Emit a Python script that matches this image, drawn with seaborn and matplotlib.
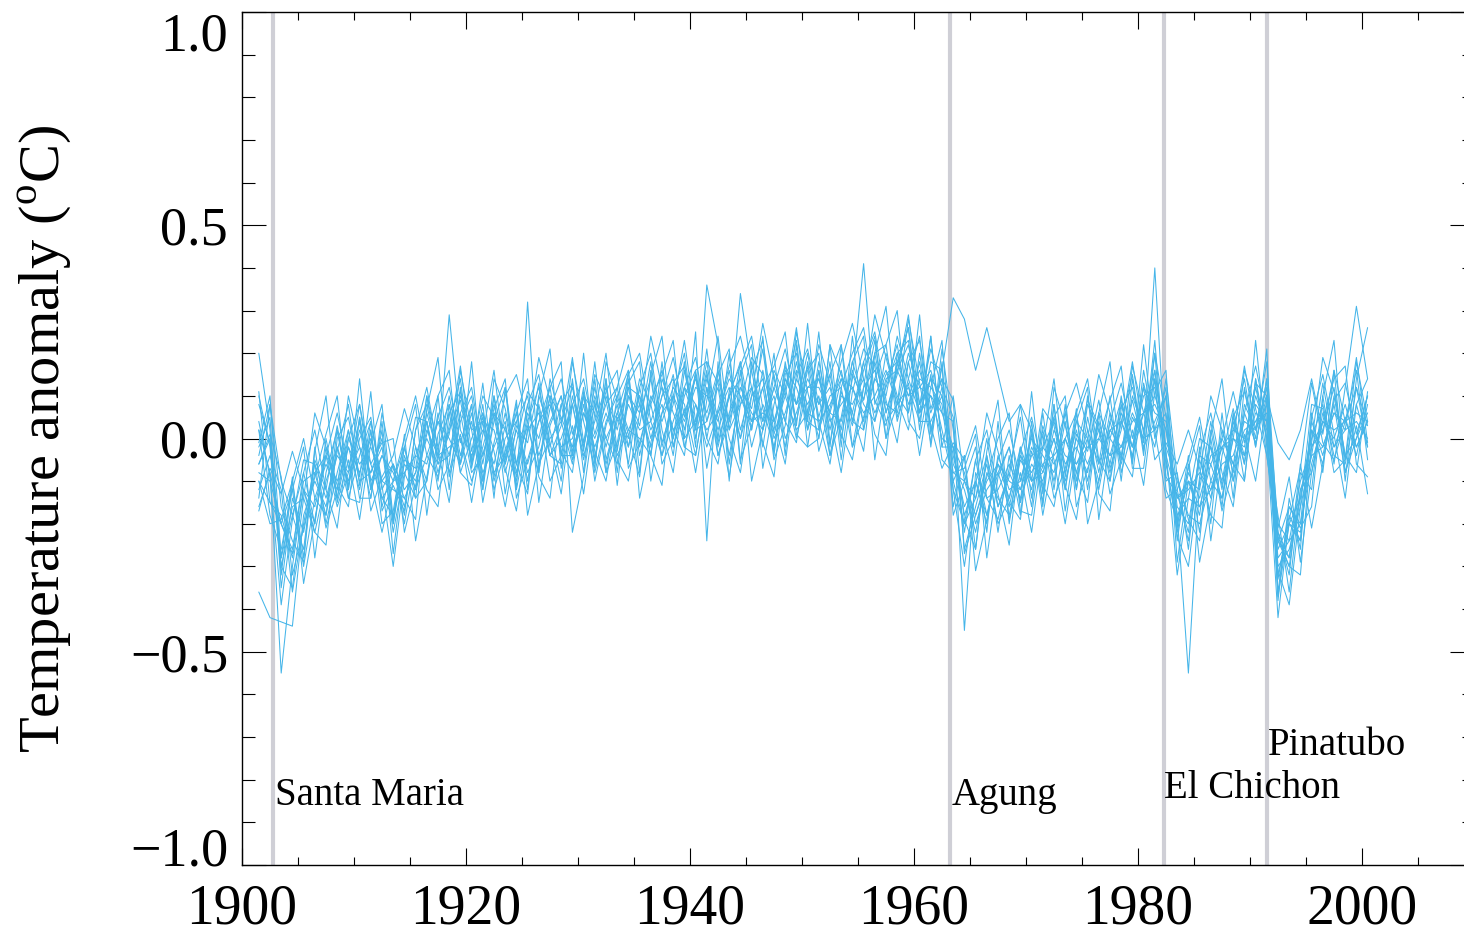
import numpy as np
import pandas as pd
import matplotlib
matplotlib.use("Agg")
import matplotlib.pyplot as plt
from matplotlib.ticker import MultipleLocator, FixedLocator, FuncFormatter
import seaborn as sns

# Annual-mean temperature anomaly (deg C) of each ensemble member, 1901-2000
years = list(range(1901, 2001))

run_01 = [0.20, 0.02, -0.30, -0.18, -0.26, -0.05, -0.12, 0.03, -0.11, 0.00,
          0.05, -0.12, -0.06, -0.18, 0.02, 0.08, -0.05, 0.10, -0.04, 0.06,
          -0.10, 0.04, 0.12, -0.06, 0.03, -0.08, 0.10, 0.05, -0.02, 0.12,
          -0.05, 0.10, 0.02, 0.14, -0.04, 0.08, 0.16, 0.00, 0.12, 0.03,
          0.15, -0.02, 0.10, 0.18, 0.04, 0.12, -0.03, 0.14, 0.08, 0.20,
          0.05, 0.15, 0.02, 0.18, 0.09, 0.20, 0.06, 0.16, 0.22, 0.08,
          0.14, 0.02, -0.10, -0.20, -0.05, -0.18, -0.08, -0.02, -0.15, -0.03,
          -0.12, 0.05, -0.08, 0.02, -0.10, 0.04, -0.06, 0.08, -0.02, 0.10,
          0.12, -0.06, -0.20, -0.10, -0.18, 0.02, -0.12, 0.05, -0.04, 0.10,
          0.02, -0.33, -0.18, -0.24, 0.02, -0.06, 0.10, -0.05, 0.12, -0.02]
run_02 = [-0.10, -0.15, -0.18, -0.28, -0.12, -0.20, -0.02, -0.14, 0.02, -0.10,
          -0.08, 0.00, -0.20, -0.04, -0.12, 0.04, -0.08, 0.02, 0.09, -0.06,
          0.05, -0.08, -0.04, 0.06, -0.10, 0.08, -0.04, -0.06, 0.10, -0.02,
          0.12, -0.02, 0.08, -0.06, 0.12, 0.00, 0.10, 0.14, 0.02, 0.15,
          0.00, 0.14, 0.04, 0.34, 0.16, 0.02, 0.12, 0.04, 0.18, 0.05,
          0.16, 0.02, 0.14, 0.06, 0.18, 0.04, 0.20, 0.10, 0.06, 0.18,
          0.02, 0.12, 0.05, -0.26, -0.16, -0.06, -0.20, -0.14, -0.04, -0.12,
          0.02, -0.10, 0.04, -0.12, 0.05, -0.08, 0.06, -0.05, 0.09, -0.02,
          0.04, 0.10, -0.12, -0.24, -0.05, -0.14, 0.02, -0.08, 0.06, -0.01,
          0.10, -0.24, -0.30, -0.12, -0.08, 0.06, -0.02, 0.05, -0.04, 0.08]
run_03 = [-0.02, 0.05, -0.35, -0.14, -0.22, -0.08, -0.18, 0.02, -0.12, 0.05,
          -0.12, -0.04, -0.08, -0.16, -0.02, -0.10, 0.06, -0.08, 0.04, 0.10,
          -0.06, 0.10, -0.02, -0.10, 0.06, 0.00, 0.12, -0.04, 0.08, -0.05,
          0.08, 0.00, -0.06, 0.10, 0.06, 0.14, -0.02, 0.10, 0.04, 0.12,
          0.10, 0.04, 0.16, 0.02, 0.12, -0.02, 0.15, 0.00, 0.06, 0.14,
          0.08, 0.12, 0.00, 0.14, 0.41, 0.08, 0.15, 0.18, 0.10, 0.16,
          0.06, 0.14, -0.06, -0.12, -0.22, -0.08, -0.14, -0.18, -0.05, -0.10,
          -0.08, 0.00, -0.12, 0.04, 0.00, -0.10, 0.04, -0.06, 0.05, 0.00,
          0.40, -0.05, -0.22, -0.08, -0.14, -0.04, -0.02, -0.10, 0.08, 0.02,
          0.12, -0.20, -0.24, -0.20, 0.04, -0.04, 0.08, -0.08, 0.00, 0.06]
run_04 = [0.02, -0.08, -0.55, -0.30, -0.12, -0.16, -0.04, -0.10, -0.02, -0.08,
          0.00, -0.14, -0.18, -0.06, -0.10, 0.02, -0.04, 0.29, 0.02, -0.04,
          0.02, -0.06, 0.06, -0.08, 0.04, 0.12, -0.02, 0.08, -0.05, 0.06,
          0.00, 0.08, 0.12, -0.02, 0.10, 0.02, 0.08, -0.04, 0.16, 0.02,
          0.04, 0.12, -0.04, 0.10, 0.02, 0.16, 0.04, 0.12, 0.00, 0.12,
          0.12, 0.06, 0.16, 0.04, 0.02, 0.14, 0.10, 0.24, 0.14, 0.06,
          0.10, 0.00, -0.02, -0.18, -0.10, -0.20, -0.04, -0.12, -0.10, 0.00,
          -0.04, -0.08, 0.06, -0.10, 0.08, 0.02, -0.08, 0.04, -0.02, 0.12,
          0.06, 0.04, -0.18, -0.55, -0.10, -0.02, -0.10, 0.04, -0.06, 0.08,
          0.04, -0.36, -0.16, -0.20, -0.06, 0.04, 0.00, 0.08, -0.02, 0.04]
run_05 = [-0.12, -0.04, -0.12, -0.36, -0.20, -0.06, -0.14, -0.04, -0.08, -0.02,
          -0.08, -0.02, -0.22, -0.08, -0.04, -0.06, 0.04, -0.04, 0.10, 0.02,
          0.04, 0.02, -0.08, 0.02, -0.06, 0.04, 0.08, -0.02, 0.00, 0.10,
          0.06, -0.06, 0.04, 0.12, -0.02, 0.10, 0.04, 0.12, 0.08, -0.04,
          0.12, 0.02, 0.10, 0.14, -0.02, 0.08, 0.02, 0.16, 0.12, 0.04,
          0.02, 0.10, 0.12, -0.02, 0.12, 0.16, 0.04, 0.08, 0.20, 0.12,
          0.16, 0.06, 0.04, -0.45, -0.08, -0.14, -0.12, -0.06, -0.12, -0.04,
          -0.02, 0.04, -0.06, -0.02, -0.08, 0.06, 0.00, -0.04, 0.10, 0.02,
          0.14, -0.02, -0.10, -0.18, -0.20, -0.10, -0.02, 0.02, 0.00, 0.04,
          0.06, -0.26, -0.20, -0.14, 0.00, 0.08, -0.04, -0.06, 0.08, -0.02]
run_06 = [-0.08, -0.10, -0.20, -0.12, -0.30, -0.14, -0.06, -0.12, 0.00, -0.06,
          -0.02, -0.10, -0.06, -0.12, -0.08, 0.00, -0.06, -0.04, 0.06, -0.08,
          -0.04, 0.06, 0.02, -0.06, 0.08, -0.04, 0.04, 0.10, -0.03, 0.06,
          -0.02, 0.06, -0.02, 0.08, 0.02, 0.04, 0.12, 0.02, 0.06, 0.14,
          0.06, 0.16, 0.02, 0.08, 0.12, 0.04, 0.10, -0.02, 0.14, 0.08,
          0.14, 0.04, 0.08, 0.12, 0.06, 0.10, 0.16, 0.08, 0.12, 0.04,
          0.04, 0.10, -0.08, -0.10, -0.18, -0.10, -0.06, -0.14, -0.02, -0.10,
          -0.06, -0.04, 0.00, -0.08, 0.02, -0.06, 0.02, 0.04, -0.04, 0.06,
          0.10, 0.02, -0.14, -0.12, -0.08, -0.12, -0.06, -0.04, 0.04, 0.02,
          0.08, -0.30, -0.26, -0.16, -0.04, -0.02, 0.06, 0.02, 0.04, 0.00]
run_07 = [-0.36, -0.42, -0.43, -0.44, -0.18, -0.10, -0.16, -0.02, -0.10, 0.02,
          -0.06, -0.14, -0.10, -0.02, -0.12, -0.04, 0.04, 0.00, -0.06, 0.04,
          -0.08, -0.02, 0.04, -0.12, 0.02, 0.06, -0.04, 0.00, 0.08, -0.04,
          0.04, 0.12, -0.04, 0.02, 0.08, -0.02, 0.06, 0.10, -0.02, 0.08,
          -0.02, 0.06, 0.12, 0.00, 0.10, 0.14, 0.00, 0.06, 0.16, 0.02,
          0.10, -0.04, 0.10, 0.08, 0.14, 0.06, 0.12, 0.20, 0.08, 0.14,
          0.12, 0.08, -0.12, -0.20, -0.14, -0.04, -0.16, -0.08, -0.14, -0.06,
          -0.10, 0.02, -0.04, -0.06, 0.00, -0.12, 0.02, -0.02, 0.06, 0.00,
          0.02, 0.06, -0.16, -0.20, -0.04, -0.06, -0.14, 0.00, -0.02, 0.12,
          0.00, -0.28, -0.24, -0.10, -0.02, 0.02, 0.12, -0.04, 0.00, 0.10]
run_08 = [0.08, -0.01, -0.30, -0.35, -0.14, 0.06, -0.02, -0.11, -0.16, 0.05,
          -0.10, -0.22, -0.10, 0.00, 0.10, -0.04, -0.09, 0.03, 0.14, -0.07,
          0.06, -0.03, -0.16, -0.01, 0.11, 0.07, -0.10, -0.04, 0.18, 0.04,
          -0.07, 0.18, 0.09, 0.01, -0.09, 0.15, 0.24, -0.02, 0.07, -0.08,
          0.09, 0.24, 0.02, 0.18, -0.10, 0.02, 0.12, 0.21, 0.08, 0.17,
          -0.03, 0.07, 0.18, 0.27, 0.14, 0.01, -0.04, 0.20, 0.23, 0.06,
          0.24, -0.02, -0.02, -0.22, -0.05, 0.02, -0.13, -0.25, -0.03, 0.05,
          -0.07, 0.05, 0.10, -0.16, -0.07, 0.00, 0.09, 0.17, -0.07, -0.07,
          0.14, -0.12, -0.19, -0.07, 0.03, -0.24, -0.04, 0.07, -0.06, 0.23,
          -0.02, -0.18, -0.36, -0.12, -0.04, 0.13, -0.02, 0.02, 0.19, -0.01]
run_09 = [-0.06, 0.00, -0.28, -0.16, -0.14, -0.22, -0.10, -0.02, -0.14, -0.04,
          0.04, -0.10, -0.12, -0.14, -0.08, 0.06, -0.04, -0.02, 0.00, -0.10,
          -0.02, 0.08, -0.06, 0.04, 0.10, -0.06, 0.00, 0.04, 0.12, -0.02,
          0.10, 0.00, 0.06, 0.00, 0.14, 0.08, -0.04, 0.04, 0.12, 0.08,
          0.02, 0.06, 0.14, 0.10, 0.04, 0.06, 0.04, 0.14, 0.08, 0.12,
          0.14, 0.06, 0.04, 0.16, 0.08, 0.04, 0.14, 0.16, 0.10, 0.12,
          0.10, 0.06, -0.02, -0.08, -0.20, -0.12, -0.08, -0.16, -0.04, -0.08,
          -0.02, -0.06, 0.00, -0.06, -0.02, 0.00, -0.04, -0.02, 0.04, 0.06,
          0.08, 0.02, -0.18, -0.14, -0.16, -0.06, 0.00, -0.06, 0.02, 0.04,
          0.10, -0.32, -0.20, -0.22, -0.02, 0.04, 0.02, 0.04, 0.06, 0.04]
run_10 = [-0.10, -0.20, -0.19, -0.10, 0.00, -0.14, -0.18, -0.03, 0.08, -0.11,
          0.04, -0.11, -0.30, -0.09, 0.05, 0.04, -0.12, -0.06, 0.16, 0.02,
          -0.12, 0.14, 0.07, -0.06, -0.13, 0.10, 0.21, -0.07, 0.03, -0.13,
          0.06, 0.20, -0.03, 0.16, -0.14, -0.01, 0.10, 0.19, 0.05, 0.15,
          -0.07, 0.07, 0.17, 0.24, 0.12, -0.01, -0.09, 0.15, 0.20, 0.04,
          0.25, -0.01, 0.11, 0.03, 0.18, 0.25, 0.09, -0.01, 0.18, 0.23,
          0.07, 0.14, 0.09, -0.27, -0.18, -0.09, 0.00, 0.06, -0.17, -0.18,
          0.01, -0.14, -0.07, 0.04, 0.12, -0.19, 0.00, 0.09, -0.05, 0.22,
          0.00, 0.10, -0.29, -0.10, -0.12, 0.04, -0.11, 0.00, 0.17, 0.02,
          0.18, -0.23, -0.30, -0.32, -0.01, 0.19, 0.11, -0.04, -0.08, 0.11]
run_11 = [-0.16, -0.08, -0.20, -0.26, -0.10, -0.08, -0.04, -0.16, -0.08, 0.08,
          -0.10, -0.04, -0.10, -0.08, -0.14, 0.10, -0.02, 0.06, -0.08, 0.00,
          0.06, -0.10, 0.00, 0.04, -0.08, -0.02, 0.10, -0.04, -0.04, 0.08,
          -0.08, 0.04, 0.10, 0.02, 0.00, -0.04, 0.14, 0.06, 0.00, 0.04,
          0.16, -0.04, 0.06, 0.12, 0.06, 0.02, 0.16, 0.10, 0.02, 0.06,
          0.04, 0.08, 0.14, 0.12, 0.04, 0.18, 0.08, 0.06, 0.18, 0.06,
          0.14, 0.10, -0.04, -0.16, -0.10, -0.18, -0.06, -0.10, -0.12, -0.02,
          -0.08, 0.00, -0.10, 0.00, -0.06, 0.02, -0.04, 0.06, -0.02, 0.06,
          0.16, -0.04, -0.14, -0.10, -0.16, -0.12, -0.02, 0.00, -0.04, 0.06,
          0.04, -0.24, -0.28, -0.14, 0.02, -0.02, 0.06, 0.04, -0.02, 0.04]
run_12 = [0.04, -0.09, -0.39, -0.19, -0.05, -0.06, -0.21, -0.12, 0.10, -0.02,
          -0.14, 0.06, -0.07, -0.14, -0.19, 0.07, 0.19, -0.09, 0.01, -0.15,
          0.01, 0.16, -0.05, 0.09, -0.18, -0.06, 0.07, 0.14, 0.01, 0.10,
          -0.10, 0.03, 0.12, 0.22, 0.08, -0.04, -0.11, 0.13, 0.17, 0.02,
          0.21, -0.01, 0.10, 0.00, 0.16, 0.23, 0.04, -0.06, 0.15, 0.21,
          0.08, 0.15, 0.22, -0.02, 0.05, 0.14, 0.22, 0.30, 0.04, 0.00,
          0.15, -0.05, -0.08, -0.07, 0.01, -0.28, -0.09, -0.02, -0.15, 0.11,
          -0.13, 0.08, -0.17, 0.01, -0.03, 0.09, -0.07, 0.02, 0.18, 0.01,
          0.20, 0.05, -0.23, -0.30, -0.09, 0.10, 0.02, -0.06, -0.10, 0.14,
          0.00, -0.42, -0.19, -0.07, 0.13, -0.01, -0.05, 0.04, 0.16, -0.05]
run_13 = [-0.14, 0.08, -0.16, -0.24, -0.29, -0.03, 0.10, -0.15, -0.05, -0.19,
          -0.01, 0.08, -0.19, 0.01, -0.24, -0.09, 0.05, 0.12, -0.01, 0.08,
          -0.15, -0.01, 0.10, 0.15, 0.04, -0.09, -0.14, 0.08, 0.13, -0.03,
          0.18, -0.05, 0.05, -0.02, 0.12, 0.20, 0.02, -0.08, 0.12, 0.19,
          0.04, 0.15, 0.21, -0.05, 0.03, 0.12, 0.17, 0.25, 0.01, -0.02,
          0.16, -0.04, 0.05, 0.18, 0.24, -0.05, 0.13, 0.22, 0.06, 0.29,
          0.01, 0.17, -0.18, -0.10, -0.14, 0.00, -0.16, -0.09, 0.08, -0.10,
          0.07, 0.03, -0.11, -0.19, 0.00, 0.15, 0.06, -0.04, -0.09, 0.13,
          0.02, -0.14, -0.12, -0.05, 0.05, -0.10, -0.14, 0.02, 0.14, -0.02,
          0.14, -0.31, -0.39, -0.16, 0.08, 0.07, -0.08, -0.05, 0.18, 0.04]
run_14 = [-0.01, 0.10, -0.28, -0.09, -0.34, -0.19, -0.04, 0.06, -0.07, 0.04,
          -0.17, -0.09, -0.04, 0.07, -0.02, -0.12, -0.16, 0.06, 0.11, -0.05,
          0.13, -0.09, 0.03, -0.09, 0.08, 0.15, -0.01, -0.13, 0.08, 0.14,
          0.01, 0.11, 0.16, -0.07, -0.01, 0.09, 0.15, 0.23, -0.02, -0.04,
          0.12, -0.04, 0.04, 0.15, 0.22, -0.07, 0.08, 0.17, 0.03, 0.27,
          0.02, 0.18, -0.05, 0.15, 0.09, 0.23, 0.06, 0.15, 0.29, 0.08,
          0.21, 0.12, -0.12, -0.30, -0.11, 0.06, -0.03, -0.15, -0.19, 0.02,
          -0.11, -0.16, 0.00, 0.06, 0.14, -0.05, -0.10, 0.04, 0.15, -0.03,
          0.16, -0.03, -0.32, -0.14, 0.00, -0.02, -0.17, -0.07, 0.16, 0.07,
          -0.04, -0.24, -0.16, -0.21, -0.16, 0.10, 0.23, -0.08, 0.03, -0.13]
run_15 = [-0.04, 0.08, -0.10, -0.18, -0.08, -0.20, 0.00, -0.14, -0.02, -0.12,
          0.02, -0.16, -0.06, -0.20, -0.04, 0.04, -0.10, 0.08, -0.06, 0.08,
          -0.12, 0.06, -0.06, 0.08, -0.12, 0.10, 0.02, -0.10, 0.14, -0.08,
          0.14, -0.08, 0.10, 0.16, -0.08, 0.16, -0.06, 0.00, 0.18, -0.02,
          0.36, 0.22, -0.10, 0.16, 0.02, 0.24, -0.04, 0.18, 0.04, 0.16,
          0.20, -0.02, 0.22, 0.04, 0.16, 0.24, 0.00, 0.18, 0.26, 0.02,
          0.24, -0.02, 0.10, -0.10, -0.02, -0.22, 0.04, -0.20, -0.02, -0.16,
          0.06, -0.12, 0.08, -0.12, 0.10, -0.06, 0.10, -0.10, 0.14, -0.04,
          0.20, -0.10, -0.08, -0.26, -0.02, -0.20, 0.06, -0.14, 0.12, -0.02,
          0.14, -0.38, -0.14, -0.26, 0.06, -0.08, 0.16, -0.10, 0.14, 0.26]
run_16 = [0.10, -0.02, -0.32, -0.10, -0.28, -0.02, -0.20, -0.08, 0.02, -0.14,
          -0.14, 0.04, -0.20, -0.02, -0.14, -0.10, 0.10, -0.12, 0.12, -0.06,
          0.08, -0.14, 0.12, -0.12, 0.32, -0.08, 0.14, 0.04, -0.06, 0.10,
          -0.06, 0.14, -0.08, 0.12, 0.10, -0.04, 0.18, -0.02, 0.10, 0.16,
          0.18, 0.00, 0.20, -0.06, 0.18, 0.04, 0.20, -0.04, 0.22, -0.02,
          0.00, 0.22, -0.02, 0.24, 0.02, 0.20, 0.22, 0.04, 0.14, 0.24,
          -0.02, 0.18, -0.16, -0.04, -0.26, -0.04, -0.22, -0.04, -0.18, 0.04,
          -0.16, 0.08, -0.12, 0.06, -0.12, 0.06, -0.10, 0.10, -0.06, 0.16,
          0.02, 0.12, -0.24, -0.06, -0.22, 0.00, -0.16, 0.06, -0.10, 0.14,
          -0.04, -0.22, -0.32, -0.08, -0.12, 0.10, -0.06, 0.12, 0.31, 0.14]
run_17 = [-0.17, -0.07, -0.13, -0.03, -0.12, -0.22, -0.25, 0.00, 0.05, -0.09,
          0.11, -0.17, -0.11, -0.17, 0.02, 0.12, -0.03, -0.15, 0.06, 0.12,
          -0.04, 0.07, 0.14, -0.14, -0.05, 0.04, 0.12, 0.18, -0.22, -0.09,
          0.09, -0.08, -0.01, 0.13, 0.18, -0.10, 0.06, 0.15, 0.00, 0.25,
          -0.24, 0.18, -0.06, 0.12, 0.07, 0.21, 0.01, 0.10, 0.26, 0.06,
          0.22, 0.13, 0.01, -0.05, 0.12, 0.29, 0.19, 0.09, 0.02, 0.20,
          0.03, -0.07, -0.01, -0.05, 0.03, -0.14, -0.19, -0.07, 0.05, -0.14,
          0.03, -0.05, -0.20, -0.03, 0.09, 0.03, -0.13, -0.05, 0.17, 0.06,
          -0.02, 0.14, -0.09, -0.19, -0.24, 0.01, 0.14, -0.10, 0.01, -0.10,
          0.09, -0.22, -0.28, -0.06, -0.21, -0.06, 0.09, 0.13, 0.01, 0.10]
run_18 = [0.11, -0.15, -0.20, -0.27, -0.08, 0.02, -0.12, -0.21, 0.00, 0.08,
          -0.06, -0.01, 0.00, -0.22, -0.11, 0.01, 0.10, 0.16, -0.08, -0.11,
          0.04, -0.12, -0.03, 0.06, 0.14, -0.15, 0.03, 0.10, -0.04, 0.20,
          -0.05, 0.14, -0.11, 0.10, 0.03, 0.18, -0.01, 0.08, 0.23, 0.04,
          0.18, 0.13, 0.00, -0.08, 0.10, 0.27, 0.14, 0.04, -0.01, 0.18,
          0.04, -0.06, 0.12, 0.20, 0.26, 0.09, 0.03, 0.17, 0.26, 0.04,
          0.18, 0.16, 0.33, 0.28, 0.16, 0.26, 0.15, 0.04, 0.08, 0.02,
          -0.15, 0.12, 0.03, -0.08, -0.15, 0.06, 0.18, -0.08, 0.02, -0.11,
          0.11, 0.16, -0.21, -0.04, -0.29, -0.15, 0.00, 0.11, -0.01, 0.13,
          0.10, -0.01, -0.05, 0.02, 0.14, 0.01, 0.16, 0.04, 0.12, 0.03]
run_19 = [-0.06, 0.01, -0.09, -0.32, -0.21, -0.09, 0.01, 0.10, -0.14, -0.15,
          0.02, -0.20, -0.17, -0.02, 0.08, -0.18, 0.01, 0.08, -0.06, 0.18,
          -0.10, 0.10, -0.13, 0.03, -0.01, 0.13, -0.04, 0.03, 0.19, -0.01,
          0.15, 0.09, -0.05, -0.10, 0.06, 0.24, 0.12, 0.02, -0.04, 0.16,
          0.00, -0.06, 0.11, 0.17, 0.24, 0.07, -0.02, 0.12, 0.23, 0.02,
          0.18, 0.05, -0.08, 0.11, 0.21, 0.17, 0.00, 0.08, 0.28, 0.13,
          -0.01, 0.21, 0.02, -0.19, -0.26, -0.03, 0.09, -0.19, -0.08, -0.22,
          -0.02, 0.14, -0.09, 0.07, -0.20, -0.10, 0.04, 0.13, 0.00, 0.12,
          -0.05, -0.01, -0.06, 0.02, -0.07, -0.18, -0.21, 0.05, 0.11, 0.00,
          0.21, -0.37, -0.20, -0.24, 0.05, 0.15, 0.01, -0.14, 0.08, 0.14]
run_20 = [0.02, -0.18, -0.26, -0.12, -0.02, -0.28, -0.08, 0.02, -0.12, 0.14,
          -0.12, 0.02, -0.27, -0.05, -0.07, 0.10, -0.06, 0.01, 0.17, -0.03,
          0.10, 0.05, -0.07, -0.17, 0.02, 0.19, 0.09, -0.03, -0.08, 0.11,
          -0.03, -0.10, 0.06, 0.15, 0.20, 0.04, -0.04, 0.10, 0.20, 0.00,
          0.14, 0.05, -0.09, 0.08, 0.19, 0.15, -0.05, 0.03, 0.25, 0.11,
          0.00, 0.22, 0.15, 0.06, -0.03, 0.20, 0.31, 0.05, 0.13, -0.04,
          0.12, 0.23, -0.10, -0.04, -0.31, -0.19, -0.05, 0.02, -0.10, 0.01,
          -0.18, -0.03, 0.06, 0.13, 0.02, -0.13, -0.17, 0.07, 0.12, -0.01,
          0.23, -0.09, -0.13, -0.22, -0.03, 0.06, -0.08, -0.16, 0.06, 0.17,
          0.04, -0.21, -0.09, -0.29, -0.08, 0.04, 0.14, 0.17, -0.06, -0.09]

runs = [run_01, run_02, run_03, run_04, run_05, run_06, run_07, run_08, run_09, run_10,
        run_11, run_12, run_13, run_14, run_15, run_16, run_17, run_18, run_19, run_20]

# Major eruptions: name, eruption date (decimal year), label anchor (year, anomaly)
volcano_names = ["Santa Maria", "Agung", "El Chichon", "Pinatubo"]
volcano_dates = [1902.8, 1963.2, 1982.3, 1991.5]
label_x = [1902.95, 1963.4, 1982.3, 1991.6]
label_y = [-0.86, -0.86, -0.842, -0.743]

y_ticks = [-1.0, -0.5, 0.0, 0.5, 1.0]

# Long-form table: one row per member and year, plotted at mid-year
frame = pd.DataFrame({
    "year": np.tile(np.array(years, dtype=float) + 0.5, len(runs)),
    "anomaly": np.concatenate([np.asarray(r, dtype=float) for r in runs]),
    "member": np.repeat(np.arange(len(runs)), len(years)),
})

sns.set_theme(style="ticks")
plt.rcParams["font.family"] = ["Liberation Serif", "DejaVu Serif"]
plt.rcParams["mathtext.fontset"] = "custom"
plt.rcParams["mathtext.rm"] = "Liberation Serif"
plt.rcParams["axes.unicode_minus"] = True
for key in ("text.color", "axes.labelcolor", "xtick.color", "ytick.color",
            "xtick.labelcolor", "ytick.labelcolor", "axes.edgecolor"):
    plt.rcParams[key] = "black"

fig = plt.figure(figsize=(14.64, 9.40), dpi=100)
ax = fig.add_axes([242 / 1464, 1 - 865 / 940, 1232 / 1464, 853 / 940])

for d in volcano_dates:
    ax.axvline(d, color="#cfcfd6", lw=3.0, zorder=1)

sns.lineplot(data=frame, x="year", y="anomaly", units="member", estimator=None,
             color="#45b5e9", lw=0.75, ax=ax, zorder=2, legend=False)

for name, x, y in zip(volcano_names, label_x, label_y):
    ax.text(x, y, name, fontsize=28, ha="left", va="baseline", color="black", zorder=3)

ax.set_xlim(1900, 2010)
ax.set_ylim(-1.0, 1.0)
ax.xaxis.set_major_locator(MultipleLocator(20))
ax.xaxis.set_minor_locator(MultipleLocator(5))
ax.yaxis.set_major_locator(FixedLocator(y_ticks))
ax.yaxis.set_minor_locator(MultipleLocator(0.1))
ax.xaxis.set_major_formatter(FuncFormatter(lambda v, p: f"{int(round(v))}"))
ax.yaxis.set_major_formatter(FuncFormatter(
    lambda v, p: ("0.0" if abs(v) < 1e-9 else f"{v:.1f}").replace("-", "\u2212")))

ax.tick_params(axis="both", which="both", direction="in", top=True, right=True,
               width=0.8, color="black")
ax.tick_params(axis="x", which="major", length=12.5, labelsize=40, pad=13.5)
ax.tick_params(axis="x", which="minor", length=6)
ax.tick_params(axis="y", which="major", length=17.5, labelsize=39, pad=10)
ax.tick_params(axis="y", which="minor", length=9)
for s in ax.spines.values():
    s.set_linewidth(1.0)
    s.set_color("black")

# End labels sit inside the axis range: lowest on its baseline, highest hanging from its tick
y_major = ax.yaxis.get_major_ticks(len(y_ticks))
y_major[0].label1.set_verticalalignment("baseline")
y_major[-1].label1.set_verticalalignment("top")

ax.set_xlabel("")
ax.set_ylabel(r"Temperature anomaly ($^{\mathrm{o}}$C)", fontsize=42)
ax.yaxis.set_label_coords(-0.136, 0.5)

fig.savefig("out.png", dpi=100, facecolor="white")
